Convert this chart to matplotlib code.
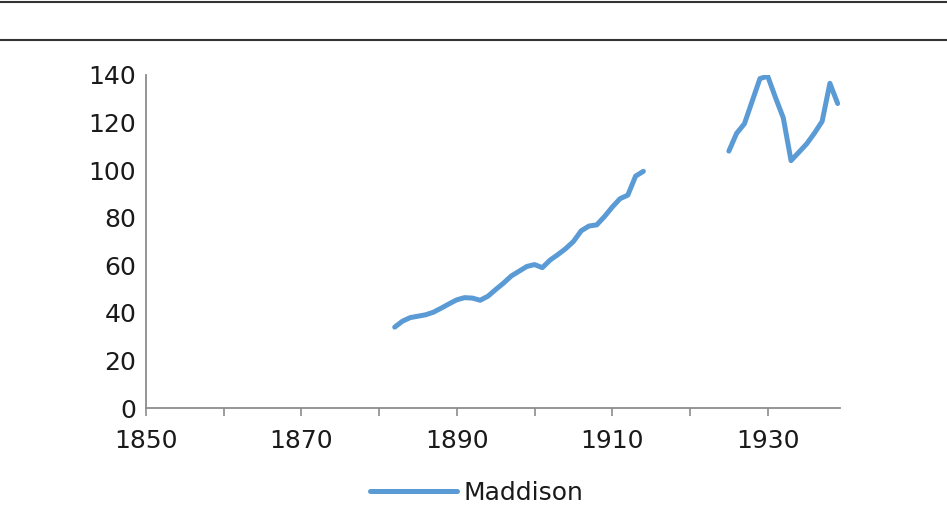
import numpy as np
import matplotlib
matplotlib.use("Agg")
import matplotlib.pyplot as plt
from matplotlib.lines import Line2D

# Data (index values)
years_a = list(range(1882, 1915))
vals_a = [34.0, 36.5, 38.0, 38.6, 39.2, 40.3, 42.0, 43.8, 45.5, 46.4, 46.2,
          45.3, 47.0, 49.8, 52.5, 55.5, 57.5, 59.5, 60.3, 59.0, 62.2, 64.5,
          67.0, 70.0, 74.5, 76.5, 77.0, 80.5, 84.5, 88.0, 89.5, 97.5, 99.5]
years_b = list(range(1925, 1940))
vals_b = [108.0, 115.5, 119.5, 129.0, 138.5, 139.5, 130.5, 122.0, 104.0,
          107.5, 111.0, 115.5, 120.5, 136.5, 128.0]
series_name = "Maddison"
xticks_major = [1850, 1870, 1890, 1910, 1930]
xticks_minor = list(range(1850, 1940, 10))
yticks = [0, 20, 40, 60, 80, 100, 120, 140]

line_color = "#5b9bd5"
text_color = "#1a1a1a"
axis_color = "#8c8c8c"

fig = plt.figure(figsize=(9.47, 5.05), dpi=100)
ax = fig.add_axes([146 / 947, 1 - 408 / 505, (840 - 146) / 947, (408 - 75) / 505])

years = years_a + [np.nan] + years_b
vals = vals_a + [np.nan] + vals_b
ax.plot(years, vals, color=line_color, lw=3.6, solid_capstyle="round",
        solid_joinstyle="round", label=series_name)

ax.set_xlim(1850, 1939.3)
ax.set_ylim(0, 140)
for s in ["top", "right"]:
    ax.spines[s].set_visible(False)
for s in ["left", "bottom"]:
    ax.spines[s].set_color(axis_color)
    ax.spines[s].set_linewidth(1.3)

ax.set_xticks(xticks_minor)
ax.set_xticklabels([str(y) if y in xticks_major else "" for y in xticks_minor])
ax.set_yticks(yticks)
ax.set_yticklabels([str(v) for v in yticks])
ax.tick_params(axis="x", length=6, width=1.2, color=axis_color, direction="out",
               labelsize=18, labelcolor=text_color, pad=9)
ax.tick_params(axis="y", length=0, labelsize=18, labelcolor=text_color, pad=7)

# Horizontal rules at top of figure
fig.add_artist(Line2D([0, 1], [1 - 1.5 / 505, 1 - 1.5 / 505], color="#333333", lw=1.5,
                      transform=fig.transFigure))
fig.add_artist(Line2D([0, 1], [1 - 39.5 / 505, 1 - 39.5 / 505], color="#333333", lw=1.5,
                      transform=fig.transFigure))

leg = fig.legend(loc="center", bbox_to_anchor=(0.503, 0.024), frameon=False,
                 fontsize=18, handlelength=3.5, handletextpad=0.25)
for t in leg.get_texts():
    t.set_color(text_color)

fig.savefig("out.png", dpi=100)
